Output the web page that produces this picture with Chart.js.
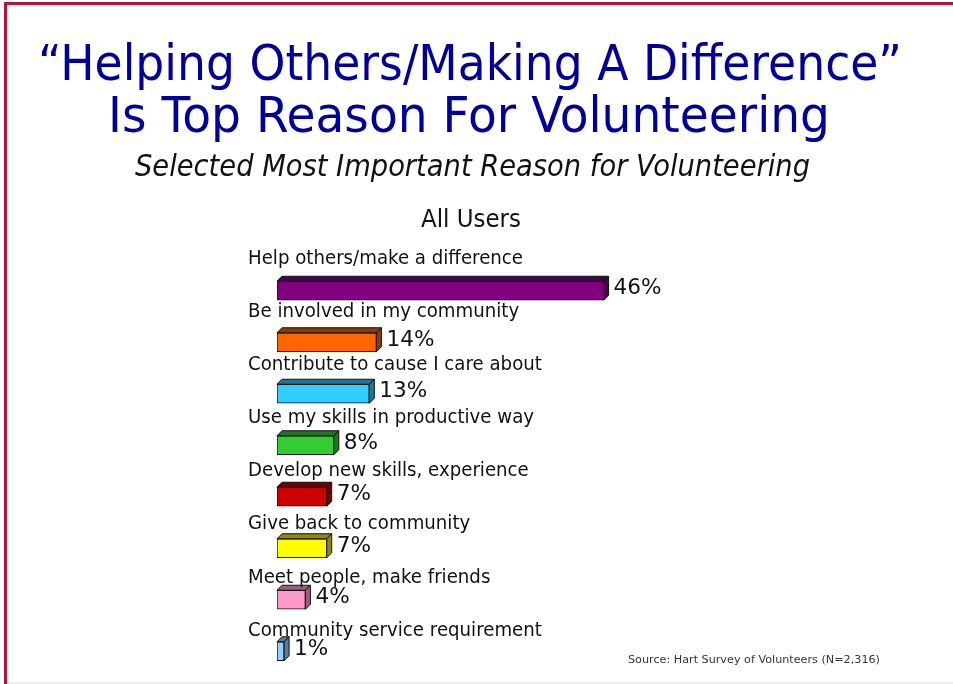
<!DOCTYPE html>
<html>
<head>
<meta charset="utf-8">
<title>Reasons for Volunteering</title>
<script src="https://cdn.jsdelivr.net/npm/chart.js@4.4.1/dist/chart.umd.min.js"></script>
<style>
    html, body {
        margin: 0;
        padding: 0;
        background: #fff;
        width: 953px;
        height: 684px;
        overflow: hidden;
    }
    .frame-top {
        position: absolute; left: 4px; top: 2px; width: 949px; height: 3px; background: #b2163e;
    }
    .frame-left {
        position: absolute; left: 4px; top: 2px; width: 3px; height: 682px; background: #b2163e;
    }
    .frame-bottom {
        position: absolute; left: 7px; top: 682px; width: 946px; height: 2px; background: #eeeeee;
    }
    #chartCanvas {
        position: absolute; left: 0; top: 0;
    }
    .txt {
        position: absolute;
        white-space: nowrap;
        font-family: "DejaVu Sans", Verdana, sans-serif;
        line-height: 1;
        transform-origin: 0 0;
    }
    .title { color: #000099; font-size: 50px; }
    .subtitle { color: #111; font-size: 31px; font-style: italic; }
    .group { color: #111; font-size: 24px; }
    .source { color: #333; font-size: 11px; }
</style>
</head>
<body>
<div class="frame-top"></div>
<div class="frame-left"></div>
<div class="frame-bottom"></div>
<canvas id="chartCanvas" width="953" height="684"></canvas>

<div class="txt title" id="title1">“Helping Others/Making A Difference”</div>
<div class="txt title" id="title2">Is Top Reason For Volunteering</div>
<div class="txt subtitle" id="subtitle">Selected Most Important Reason for Volunteering</div>
<div class="txt group" id="group">All Users</div>
<div class="txt source" id="source">Source: Hart Survey of Volunteers (N=2,316)</div>

<script>
// Survey answers, top to bottom
const categories = [
    'Help others/make a difference',
    'Be involved in my community',
    'Contribute to cause I care about',
    'Use my skills in productive way',
    'Develop new skills, experience',
    'Give back to community',
    'Meet people, make friends',
    'Community service requirement'
];
const percents = [46, 14, 13, 8, 7, 7, 4, 1];
const barColors = ['#800080', '#ff6600', '#33ccff', '#33cc33', '#cc0000', '#ffff00', '#ff99cc', '#99ccff'];
const shadeColors = ['#4a004a', '#8f3a00', '#1d7696', '#1d781d', '#720000', '#8c8c00', '#a05c7e', '#5a7a9a'];

// Place a line of text: left edge, baseline and the width it should fill
function placeText(id, left, baseline, width) {
    const el = document.getElementById(id);
    const size = parseFloat(getComputedStyle(el).fontSize);
    const natural = el.getBoundingClientRect().width;
    el.style.left = left + 'px';
    el.style.top = (baseline - size * 0.846) + 'px';
    el.style.transform = 'scaleX(' + (width / natural) + ')';
}

placeText('title1', 38, 80, 864);
placeText('title2', 108, 132, 722);
placeText('subtitle', 135, 176, 675);
placeText('group', 421, 227, 100);
placeText('source', 628, 663, 252);

const DEPTH = 5;

// Draws the top and side faces of each bar plus the text around it
const bars3d = {
    id: 'bars3d',
    afterDatasetsDraw(chart) {
        const ctx = chart.ctx;
        const meta = chart.getDatasetMeta(0);

        ctx.save();
        ctx.font = '20px "DejaVu Sans"';
        const catScale = 275 / ctx.measureText(categories[0]).width;
        ctx.font = '22px "DejaVu Sans"';
        const valScale = 48 / ctx.measureText(percents[0] + '%').width;
        ctx.restore();

        meta.data.forEach((bar, i) => {
            const p = bar.getProps(['x', 'y', 'base', 'height'], true);
            const top = p.y - p.height / 2;
            const bottom = p.y + p.height / 2;

            ctx.save();
            ctx.lineWidth = 1;
            ctx.strokeStyle = '#111';
            ctx.fillStyle = shadeColors[i];

            // top face
            ctx.beginPath();
            ctx.moveTo(p.base, top);
            ctx.lineTo(p.base + DEPTH, top - DEPTH);
            ctx.lineTo(p.x + DEPTH, top - DEPTH);
            ctx.lineTo(p.x, top);
            ctx.closePath();
            ctx.fill();
            ctx.stroke();

            // right side face
            ctx.beginPath();
            ctx.moveTo(p.x, top);
            ctx.lineTo(p.x + DEPTH, top - DEPTH);
            ctx.lineTo(p.x + DEPTH, bottom - DEPTH);
            ctx.lineTo(p.x, bottom);
            ctx.closePath();
            ctx.fill();
            ctx.stroke();

            // category name above the bar
            ctx.fillStyle = '#111';
            ctx.textBaseline = 'middle';
            ctx.font = '20px "DejaVu Sans"';
            ctx.translate(248, p.y - 32 + i * 1.6);
            ctx.scale(catScale, 1);
            ctx.fillText(categories[i], 0, 0);
            ctx.restore();

            // value to the right of the bar
            ctx.save();
            ctx.fillStyle = '#111';
            ctx.textBaseline = 'middle';
            ctx.font = '22px "DejaVu Sans"';
            ctx.translate(p.x + DEPTH + 5, p.y - 2);
            ctx.scale(valScale, 1);
            ctx.fillText(percents[i] + '%', 0, 0);
            ctx.restore();
        });
    }
};

const ctx = document.getElementById('chartCanvas').getContext('2d');

new Chart(ctx, {
    type: 'bar',
    data: {
        labels: categories,
        datasets: [{
            data: percents,
            backgroundColor: barColors,
            borderColor: '#111',
            borderWidth: 1,
            borderSkipped: false,
            barThickness: 19
        }]
    },
    options: {
        indexAxis: 'y',
        responsive: false,
        animation: false,
        layout: {
            padding: { left: 277, right: 250, top: 265, bottom: 7 }
        },
        plugins: {
            legend: { display: false },
            tooltip: { enabled: false },
            title: { display: false }
        },
        scales: {
            x: { display: false, min: 0, max: 60 },
            y: { display: false }
        }
    },
    plugins: [bars3d]
});
</script>
</body>
</html>
